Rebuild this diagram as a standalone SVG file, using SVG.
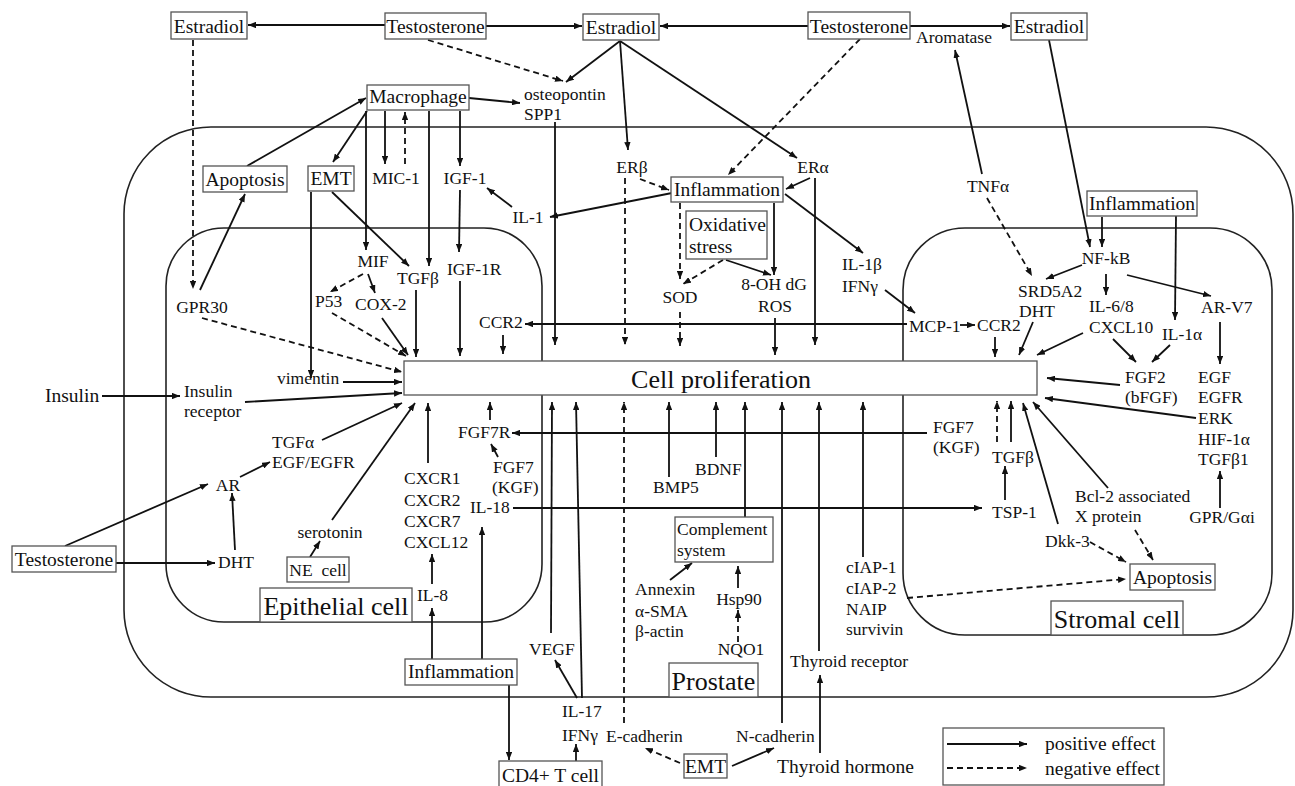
<svg xmlns="http://www.w3.org/2000/svg" width="1295" height="786" viewBox="0 0 1295 786">
<defs>
<marker id="a" viewBox="0 0 10 8" refX="10" refY="4" markerWidth="8" markerHeight="6.4" markerUnits="userSpaceOnUse" orient="auto"><path d="M0,0 L10,4 L0,8 z" fill="#111"/></marker>
<style>
.s{stroke:#111;stroke-width:1.8;fill:none;marker-end:url(#a)}
.d{stroke:#111;stroke-width:1.8;fill:none;stroke-dasharray:6 4;marker-end:url(#a)}
.box{fill:#fff;stroke:#555;stroke-width:1.3}
.cell{fill:none;stroke:#222;stroke-width:1.6}
text{font-family:"Liberation Serif","Times New Roman",serif;fill:#111}
.t{font-size:17.5px}
.b{font-size:19.5px}
.L{font-size:26px}
.m{text-anchor:middle}
</style>
</defs>
<rect width="1295" height="786" fill="#fff"/>
<g id="cells">
<rect id="prostate-outline" class="cell" x="124" y="127" width="1169" height="570" rx="87"/>
<rect id="epithelial-outline" class="cell" x="166" y="228" width="376" height="394" rx="58"/>
<rect id="stromal-outline" class="cell" x="903" y="228" width="369" height="407" rx="62"/>
</g>
<g id="cell-proliferation"><rect class="box" x="404" y="361" width="633" height="34"/><text class="L m" x="721" y="388">Cell proliferation</text></g>
<g id="connectors">
<line class="s" x1="385" y1="25" x2="248" y2="25"/>
<line class="s" x1="486" y1="26" x2="582" y2="26"/>
<line class="s" x1="808" y1="26" x2="660" y2="26"/>
<line class="s" x1="910" y1="26" x2="1010" y2="26"/>
<line class="d" x1="193" y1="40" x2="193" y2="289"/>
<line class="d" x1="428" y1="40" x2="563" y2="81"/>
<line class="s" x1="620" y1="41" x2="566" y2="82"/>
<line class="s" x1="620" y1="41" x2="628" y2="150"/>
<line class="s" x1="620" y1="41" x2="797" y2="158"/>
<line class="d" x1="860" y1="39" x2="728" y2="175"/>
<line class="s" x1="982" y1="174" x2="955" y2="50"/>
<line class="d" x1="987" y1="198" x2="1032" y2="276"/>
<line class="s" x1="1049" y1="40" x2="1090" y2="247"/>
<line class="s" x1="1102" y1="217" x2="1102" y2="247"/>
<line class="s" x1="1176" y1="216" x2="1175" y2="320"/>
<line class="s" x1="1082" y1="265" x2="1046" y2="279"/>
<line class="s" x1="1106" y1="274" x2="1106" y2="295"/>
<line class="s" x1="1127" y1="275" x2="1211" y2="296"/>
<line class="s" x1="960" y1="325" x2="975" y2="325"/>
<line class="s" x1="995" y1="337" x2="995" y2="357"/>
<line class="s" x1="1033" y1="322" x2="1019" y2="355"/>
<line class="s" x1="1083" y1="333" x2="1037" y2="355"/>
<line class="s" x1="1113" y1="339" x2="1136" y2="362"/>
<line class="s" x1="1170" y1="345" x2="1152" y2="362"/>
<line class="s" x1="1120" y1="385" x2="1047" y2="378"/>
<line class="s" x1="1220" y1="322" x2="1220" y2="364"/>
<line class="s" x1="1196" y1="418" x2="1045" y2="398"/>
<line class="s" x1="1220" y1="508" x2="1220" y2="471"/>
<line class="s" x1="927" y1="433" x2="512" y2="433"/>
<line class="d" x1="997" y1="442" x2="997" y2="401"/>
<line class="s" x1="1011" y1="442" x2="1011" y2="401"/>
<line class="s" x1="1005" y1="500" x2="1005" y2="466"/>
<line class="s" x1="513" y1="508" x2="982" y2="508"/>
<line class="s" x1="1108" y1="488" x2="1033" y2="402"/>
<line class="s" x1="1058" y1="524" x2="1023" y2="403"/>
<line class="d" x1="1090" y1="542" x2="1126" y2="562"/>
<line class="d" x1="1135" y1="530" x2="1153" y2="560"/>
<line class="d" x1="907" y1="598" x2="1126" y2="579"/>
<line class="s" x1="863" y1="557" x2="863" y2="402"/>
<line class="s" x1="819" y1="651" x2="819" y2="402"/>
<line class="s" x1="820" y1="753" x2="820" y2="675"/>
<line class="s" x1="782" y1="723" x2="782" y2="402"/>
<line class="s" x1="732" y1="766" x2="774" y2="748"/>
<line class="d" x1="680" y1="763" x2="645" y2="748"/>
<line class="d" x1="624" y1="723" x2="624" y2="402"/>
<line class="s" x1="576" y1="761" x2="576" y2="744"/>
<line class="s" x1="509" y1="685" x2="509" y2="760"/>
<line class="s" x1="432" y1="659" x2="432" y2="608"/>
<line class="s" x1="432" y1="584" x2="432" y2="554"/>
<line class="s" x1="482" y1="659" x2="482" y2="527"/>
<line class="s" x1="577" y1="698" x2="555" y2="660"/>
<line class="s" x1="582" y1="698" x2="576" y2="402"/>
<line class="s" x1="551" y1="633" x2="552" y2="402"/>
<line class="s" x1="669" y1="477" x2="669" y2="402"/>
<line class="s" x1="716" y1="457" x2="716" y2="402"/>
<line class="s" x1="745" y1="517" x2="745" y2="402"/>
<line class="s" x1="670" y1="580" x2="692" y2="563"/>
<line class="s" x1="738" y1="588" x2="738" y2="566"/>
<line class="d" x1="738" y1="642" x2="738" y2="610"/>
<line class="s" x1="428" y1="463" x2="428" y2="403"/>
<line class="s" x1="490" y1="420" x2="490" y2="402"/>
<line class="s" x1="498" y1="457" x2="491" y2="444"/>
<line class="s" x1="332" y1="520" x2="415" y2="403"/>
<line class="s" x1="310" y1="557" x2="320" y2="541"/>
<line class="s" x1="116" y1="563" x2="215" y2="563"/>
<line class="s" x1="65" y1="546" x2="208" y2="484"/>
<line class="s" x1="235" y1="550" x2="232" y2="493"/>
<line class="s" x1="240" y1="477" x2="270" y2="462"/>
<line class="s" x1="322" y1="440" x2="402" y2="403"/>
<line class="s" x1="102" y1="396" x2="180" y2="396"/>
<line class="s" x1="245" y1="402" x2="402" y2="393"/>
<line class="s" x1="343" y1="382" x2="402" y2="382"/>
<line class="d" x1="202" y1="318" x2="402" y2="372"/>
<line class="s" x1="200" y1="290" x2="245" y2="194"/>
<line class="s" x1="247" y1="166" x2="366" y2="98"/>
<line class="s" x1="367" y1="111" x2="333" y2="162"/>
<line class="s" x1="366" y1="111" x2="366" y2="250"/>
<line class="s" x1="385" y1="111" x2="385" y2="164"/>
<line class="d" x1="405" y1="164" x2="405" y2="112"/>
<line class="s" x1="429" y1="111" x2="429" y2="266"/>
<line class="s" x1="460" y1="111" x2="460" y2="166"/>
<line class="s" x1="460" y1="190" x2="459" y2="252"/>
<line class="s" x1="460" y1="281" x2="460" y2="356"/>
<line class="s" x1="512" y1="207" x2="487" y2="188"/>
<line class="s" x1="672" y1="193" x2="550" y2="217"/>
<line class="s" x1="469" y1="98" x2="520" y2="103"/>
<line class="s" x1="555" y1="122" x2="555" y2="345"/>
<line class="s" x1="311" y1="192" x2="311" y2="378"/>
<line class="s" x1="332" y1="192" x2="409" y2="266"/>
<line class="d" x1="363" y1="274" x2="330" y2="292"/>
<line class="s" x1="368" y1="274" x2="375" y2="293"/>
<line class="d" x1="332" y1="313" x2="406" y2="356"/>
<line class="s" x1="382" y1="318" x2="408" y2="355"/>
<line class="s" x1="416" y1="290" x2="416" y2="357"/>
<line class="s" x1="907" y1="324" x2="525" y2="324"/>
<line class="s" x1="503" y1="335" x2="503" y2="354"/>
<line class="d" x1="640" y1="179" x2="669" y2="190"/>
<line class="d" x1="625" y1="178" x2="625" y2="345"/>
<line class="s" x1="810" y1="178" x2="786" y2="189"/>
<line class="s" x1="815" y1="178" x2="815" y2="345"/>
<line class="d" x1="680" y1="203" x2="680" y2="279"/>
<line class="d" x1="723" y1="260" x2="683" y2="284"/>
<line class="s" x1="726" y1="260" x2="771" y2="275"/>
<line class="s" x1="774" y1="203" x2="774" y2="275"/>
<line class="d" x1="680" y1="312" x2="680" y2="346"/>
<line class="s" x1="775" y1="318" x2="775" y2="355"/>
<line class="s" x1="785" y1="194" x2="863" y2="253"/>
<line class="s" x1="885" y1="290" x2="915" y2="313"/>
</g>
<g id="estradiol-l"><rect class="box" x="171" y="12" width="76" height="27"/><text class="b m" x="209" y="33">Estradiol</text></g>
<g id="testosterone-l"><rect class="box" x="385" y="13" width="101" height="26"/><text class="b m" x="435.5" y="33">Testosterone</text></g>
<g id="estradiol-c"><rect class="box" x="583" y="14" width="76" height="26"/><text class="b m" x="621" y="34">Estradiol</text></g>
<g id="testosterone-r"><rect class="box" x="808" y="12" width="102" height="27"/><text class="b m" x="859" y="33">Testosterone</text></g>
<g id="estradiol-r"><rect class="box" x="1011" y="13" width="76" height="27"/><text class="b m" x="1049" y="33">Estradiol</text></g>
<g id="aromatase"><text class="t m" x="954" y="43">Aromatase</text></g>
<g id="macrophage"><rect class="box" x="367" y="85" width="102" height="25"/><text class="b m" x="418" y="103">Macrophage</text></g>
<g id="osteopontin"><text class="t" x="524" y="100">osteopontin</text><text class="t" x="524" y="120">SPP1</text></g>
<g id="apoptosis-l"><rect class="box" x="203" y="166" width="84" height="26"/><text class="b m" x="245" y="186">Apoptosis</text></g>
<g id="emt-l"><rect class="box" x="308" y="166" width="46" height="25"/><text class="b m" x="331" y="185">EMT</text></g>
<g id="mic1"><text class="t m" x="396" y="184">MIC-1</text></g>
<g id="igf1"><text class="t m" x="465" y="184">IGF-1</text></g>
<g id="il1"><text class="t m" x="528" y="223">IL-1</text></g>
<g id="erb"><text class="t m" x="632" y="173">ERβ</text></g>
<g id="era"><text class="t m" x="813" y="173">ERα</text></g>
<g id="inflammation-c"><rect class="box" x="671" y="177" width="112" height="25"/><text class="b m" x="727" y="196">Inflammation</text></g>
<g id="oxidative"><rect class="box" x="686" y="211" width="81" height="48"/><text class="b" x="689" y="231">Oxidative</text><text class="b" x="689" y="253">stress</text></g>
<g id="sod"><text class="t m" x="680" y="303">SOD</text></g>
<g id="ohdg"><text class="t m" x="774" y="290">8-OH dG</text><text class="t m" x="775" y="312">ROS</text></g>
<g id="il1b"><text class="t" x="842" y="270">IL-1β</text><text class="t" x="842" y="292">IFNγ</text></g>
<g id="tnfa"><text class="t m" x="988" y="192">TNFα</text></g>
<g id="inflammation-r"><rect class="box" x="1087" y="191" width="110" height="25"/><text class="b m" x="1142" y="210">Inflammation</text></g>
<g id="nfkb"><text class="t m" x="1106" y="264">NF-kB</text></g>
<g id="srd5a2"><text class="t" x="1018" y="297">SRD5A2</text><text class="t" x="1019" y="317">DHT</text></g>
<g id="il68"><text class="t" x="1089" y="312">IL-6/8</text><text class="t" x="1089" y="333">CXCL10</text></g>
<g id="arv7"><text class="t" x="1201" y="313">AR-V7</text></g>
<g id="il1a"><text class="t" x="1162" y="340">IL-1α</text></g>
<g id="mcp1"><text class="t" x="909" y="332">MCP-1</text></g>
<g id="ccr2-r"><text class="t" x="977" y="331">CCR2</text></g>
<g id="fgf2"><text class="t" x="1125" y="383">FGF2</text><text class="t" x="1125" y="403">(bFGF)</text></g>
<g id="egf"><text class="t" x="1198" y="383">EGF</text><text class="t" x="1198" y="403">EGFR</text><text class="t" x="1198" y="424">ERK</text><text class="t" x="1198" y="445">HIF-1α</text><text class="t" x="1198" y="465">TGFβ1</text></g>
<g id="gpr"><text class="t m" x="1222" y="523">GPR/Gαi</text></g>
<g id="fgf7-r"><text class="t" x="933" y="433">FGF7</text><text class="t" x="933" y="453">(KGF)</text></g>
<g id="tgfb-r"><text class="t" x="992" y="463">TGFβ</text></g>
<g id="tsp1"><text class="t" x="992" y="518">TSP-1</text></g>
<g id="bcl2"><text class="t" x="1075" y="502">Bcl-2 associated</text><text class="t" x="1075" y="522">X protein</text></g>
<g id="dkk3"><text class="t" x="1045" y="547">Dkk-3</text></g>
<g id="apoptosis-r"><rect class="box" x="1130" y="564" width="85" height="26"/><text class="b m" x="1172.5" y="584">Apoptosis</text></g>
<g id="stromal-cell"><rect class="box" x="1051" y="601" width="132" height="34"/><text class="L m" x="1117" y="628">Stromal cell</text></g>
<g id="ciap"><text class="t" x="846" y="573">cIAP-1</text><text class="t" x="846" y="594">cIAP-2</text><text class="t" x="846" y="615">NAIP</text><text class="t" x="846" y="635">survivin</text></g>
<g id="thyroid-receptor"><text class="t" x="790" y="667">Thyroid receptor</text></g>
<g id="thyroid-hormone"><text class="b" x="777" y="773">Thyroid hormone</text></g>
<g id="n-cadherin"><text class="t" x="736" y="742">N-cadherin</text></g>
<g id="e-cadherin"><text class="t" x="606" y="742">E-cadherin</text></g>
<g id="emt-b"><rect class="box" x="684" y="754" width="43" height="24"/><text class="b m" x="705.5" y="773">EMT</text></g>
<g id="il17"><text class="t" x="562" y="717">IL-17</text><text class="t" x="562" y="741">IFNγ</text></g>
<g id="cd4"><rect class="box" x="499" y="761" width="103" height="27"/><text class="b m" x="550.5" y="782">CD4+ T cell</text></g>
<g id="inflammation-b"><rect class="box" x="405" y="659" width="112" height="26"/><text class="b m" x="461" y="678">Inflammation</text></g>
<g id="vegf"><text class="t" x="529" y="655">VEGF</text></g>
<g id="prostate"><rect class="box" x="669" y="663" width="89" height="34"/><text class="L m" x="713.5" y="690">Prostate</text></g>
<g id="annexin"><text class="t" x="635" y="595">Annexin</text><text class="t" x="635" y="617">α-SMA</text><text class="t" x="635" y="637">β-actin</text></g>
<g id="hsp90"><text class="t m" x="739" y="605">Hsp90</text></g>
<g id="nqo1"><text class="t m" x="741" y="655">NQO1</text></g>
<g id="complement"><rect class="box" x="675" y="517" width="98" height="45"/><text class="t" x="677" y="535">Complement</text><text class="t" x="677" y="556">system</text></g>
<g id="bmp5"><text class="t" x="653" y="493">BMP5</text></g>
<g id="bdnf"><text class="t" x="695" y="475">BDNF</text></g>
<g id="il18"><text class="t" x="470" y="513">IL-18</text></g>
<g id="fgf7-l"><text class="t" x="493" y="473">FGF7</text><text class="t" x="492" y="493">(KGF)</text></g>
<g id="fgf7r"><text class="t" x="458" y="438">FGF7R</text></g>
<g id="cxcr"><text class="t" x="404" y="484">CXCR1</text><text class="t" x="404" y="506">CXCR2</text><text class="t" x="404" y="527">CXCR7</text><text class="t" x="404" y="548">CXCL12</text></g>
<g id="il8"><text class="t" x="417" y="601">IL-8</text></g>
<g id="epithelial-cell"><rect class="box" x="260" y="588" width="152" height="34"/><text class="L m" x="336" y="615">Epithelial cell</text></g>
<g id="ne-cell"><rect class="box" x="287" y="557" width="62" height="25"/><text class="t m" x="318" y="576" xml:space="preserve">NE  cell</text></g>
<g id="serotonin"><text class="t m" x="330" y="538">serotonin</text></g>
<g id="dht-l"><text class="t" x="218" y="568">DHT</text></g>
<g id="testosterone-b"><rect class="box" x="12" y="546" width="104" height="26"/><text class="b m" x="64" y="566">Testosterone</text></g>
<g id="ar"><text class="t m" x="228" y="491">AR</text></g>
<g id="tgfa"><text class="t" x="272" y="448">TGFα</text><text class="t" x="272" y="468">EGF/EGFR</text></g>
<g id="insulin"><text class="b" x="45" y="402">Insulin</text></g>
<g id="insulin-receptor"><text class="t" x="184" y="397">Insulin</text><text class="t" x="184" y="417">receptor</text></g>
<g id="vimentin"><text class="t" x="277" y="384">vimentin</text></g>
<g id="gpr30"><text class="t m" x="202" y="313">GPR30</text></g>
<g id="mif"><text class="t m" x="373" y="267">MIF</text></g>
<g id="p53"><text class="t" x="315" y="307">P53</text></g>
<g id="cox2"><text class="t" x="355" y="310">COX-2</text></g>
<g id="tgfb-l"><text class="t" x="397" y="284">TGFβ</text></g>
<g id="igf1r"><text class="t" x="447" y="275">IGF-1R</text></g>
<g id="ccr2-l"><text class="t" x="479" y="328">CCR2</text></g>
<g id="legend">
<rect class="box" x="943" y="728" width="221" height="57"/>
<line class="s" x1="947" y1="744" x2="1027" y2="744"/>
<line class="d" x1="947" y1="768" x2="1027" y2="768"/>
<text class="b" x="1045" y="750">positive effect</text>
<text class="b" x="1045" y="775">negative effect</text>
</g>
</svg>
